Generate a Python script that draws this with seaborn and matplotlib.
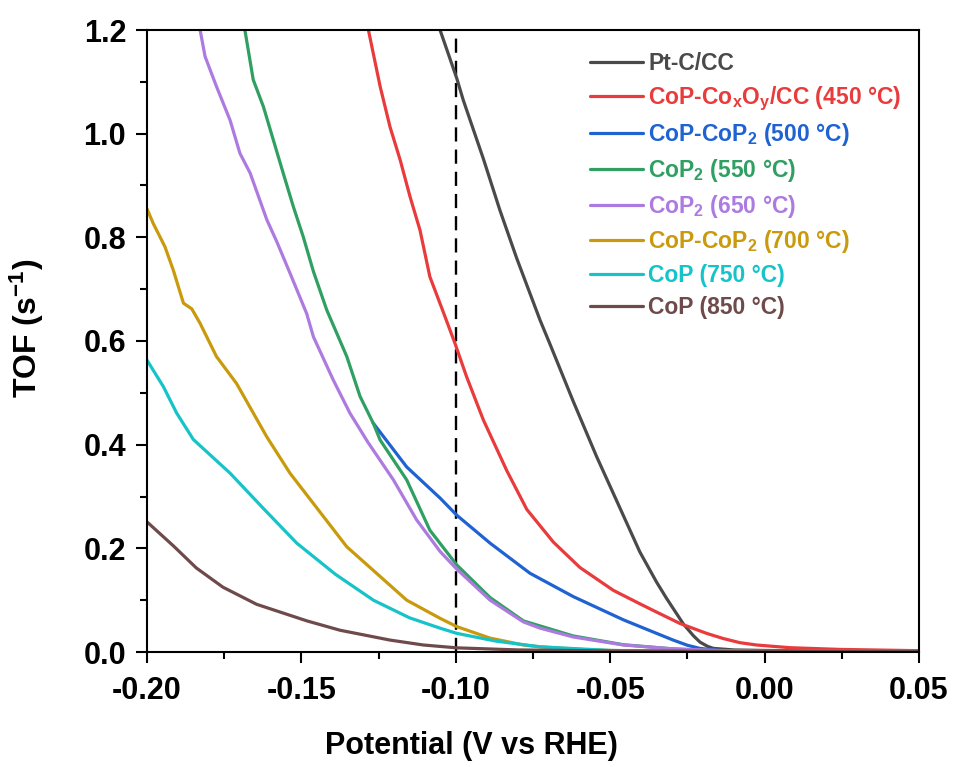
import matplotlib
matplotlib.use("Agg")
import matplotlib.pyplot as plt
import seaborn as sns
import pandas as pd

sns.set_theme(style="ticks")
plt.rcParams['font.family'] = ['Liberation Sans', 'DejaVu Sans']
plt.rcParams['font.weight'] = 'bold'
plt.rcParams['text.color'] = 'black'
plt.rcParams['axes.labelcolor'] = 'black'
plt.rcParams['xtick.color'] = 'black'
plt.rcParams['ytick.color'] = 'black'
plt.rcParams['mathtext.fontset'] = 'custom'
plt.rcParams['mathtext.rm'] = 'Liberation Sans:bold'
plt.rcParams['mathtext.bf'] = 'Liberation Sans:bold'
plt.rcParams['mathtext.it'] = 'Liberation Sans:bold'
plt.rcParams['mathtext.default'] = 'bf'

# ---- data ----
labels = [
    "Pt-C/CC",
    "CoP-Co$_x$O$_y$/CC (450 °C)",
    "CoP-CoP$_2$ (500 °C)",
    "CoP$_2$ (550 °C)",
    "CoP$_2$ (650 °C)",
    "CoP-CoP$_2$ (700 °C)",
    "CoP (750 °C)",
    "CoP (850 °C)",
]
colors = ["#4a4a4a", "#e93b3b", "#1f62d2", "#2f9f62", "#ad7be0", "#c99a0c", "#16c3c8", "#6e4a4a"]

pt_x = [-0.1051, -0.0997, -0.0976, -0.0911, -0.0857, -0.0803, -0.0727, -0.0695, -0.0620, -0.0544,
        -0.0480, -0.0404, -0.0350, -0.0317, -0.0263, -0.0230, -0.0209, -0.0185, -0.0166, -0.0100,
        0.0, 0.02, 0.05]
pt_y = [1.20, 1.107, 1.065, 0.952, 0.852, 0.760, 0.640, 0.594, 0.484, 0.377,
        0.293, 0.193, 0.135, 0.103, 0.054, 0.031, 0.019, 0.011, 0.007, 0.004,
        0.003, 0.002, 0.002]

r450_x = [-0.1283, -0.1245, -0.1213, -0.1180, -0.1148, -0.1116, -0.1084, -0.1040, -0.1003, -0.0965,
          -0.0911, -0.0835, -0.0770, -0.0684, -0.0598, -0.0490, -0.0404, -0.0360, -0.0274, -0.0188,
          -0.0134, -0.0080, -0.0026, 0.0082, 0.0244, 0.05]
r450_y = [1.20, 1.091, 1.013, 0.949, 0.878, 0.814, 0.724, 0.655, 0.596, 0.531,
          0.448, 0.350, 0.275, 0.212, 0.163, 0.119, 0.093, 0.080, 0.055, 0.036,
          0.026, 0.018, 0.0135, 0.0083, 0.005, 0.0025]

b500_x = [-0.1268, -0.1159, -0.1051, -0.0997, -0.0889, -0.0760, -0.0620, -0.0457, -0.0350, -0.0296,
          -0.0250, -0.0210, -0.0150, -0.0050, 0.0100, 0.05]
b500_y = [0.442, 0.357, 0.297, 0.264, 0.210, 0.152, 0.107, 0.062, 0.036, 0.023,
          0.013, 0.007, 0.003, 0.002, 0.001, 0.001]

g550_x = [-0.1683, -0.1656, -0.1623, -0.1591, -0.1559, -0.1526, -0.1494, -0.1461, -0.1418, -0.1353,
          -0.1310, -0.1267, -0.1245, -0.1159, -0.1084, -0.0997, -0.0889, -0.0781, -0.0620, -0.0457,
          -0.0296, -0.0150, 0.0, 0.05]
g550_y = [1.20, 1.104, 1.052, 0.988, 0.924, 0.859, 0.801, 0.734, 0.660, 0.570,
          0.493, 0.441, 0.409, 0.332, 0.235, 0.168, 0.105, 0.060, 0.031, 0.014,
          0.006, 0.002, 0.001, 0.001]

p650_x = [-0.1828, -0.1812, -0.1775, -0.1731, -0.1699, -0.1666, -0.1612, -0.1580, -0.1537, -0.1483,
          -0.1461, -0.1397, -0.1343, -0.1285, -0.1202, -0.1127, -0.1051, -0.0997, -0.0889, -0.0781,
          -0.0727, -0.0620, -0.0457, -0.0296, -0.0150, 0.0, 0.05]
p650_y = [1.20, 1.149, 1.091, 1.026, 0.962, 0.924, 0.834, 0.792, 0.731, 0.653,
          0.608, 0.525, 0.461, 0.405, 0.332, 0.255, 0.194, 0.160, 0.100, 0.058,
          0.046, 0.029, 0.0135, 0.006, 0.003, 0.001, 0.001]

y700_x = [-0.2000, -0.1980, -0.1942, -0.1915, -0.1882, -0.1855, -0.1828, -0.1775, -0.1710, -0.1612,
          -0.1537, -0.1353, -0.1159, -0.1051, -0.0997, -0.0890, -0.0781, -0.0727, -0.0600, -0.0500,
          -0.0300, 0.0, 0.05]
y700_y = [0.855, 0.827, 0.782, 0.737, 0.673, 0.662, 0.634, 0.570, 0.518, 0.415,
          0.345, 0.203, 0.100, 0.065, 0.049, 0.027, 0.0135, 0.010, 0.005, 0.003,
          0.0015, 0.001, 0.001]

c750_x = [-0.2000, -0.1947, -0.1904, -0.1850, -0.1731, -0.1620, -0.1515, -0.1390, -0.1267, -0.1150,
          -0.1051, -0.0997, -0.0870, -0.0727, -0.0500, -0.0300, 0.0, 0.05]
c750_y = [0.563, 0.512, 0.461, 0.410, 0.345, 0.275, 0.210, 0.150, 0.100, 0.066,
          0.046, 0.036, 0.021, 0.010, 0.003, 0.0015, 0.001, 0.001]

br850_x = [-0.2000, -0.1915, -0.1840, -0.1754, -0.1645, -0.1482, -0.1375, -0.1213, -0.1105, -0.0996,
           -0.0800, -0.0500, 0.0, 0.05]
br850_y = [0.251, 0.205, 0.162, 0.125, 0.092, 0.060, 0.042, 0.023, 0.0135, 0.008,
           0.004, 0.002, 0.001, 0.001]

xs = [pt_x, r450_x, b500_x, g550_x, p650_x, y700_x, c750_x, br850_x]
ys = [pt_y, r450_y, b500_y, g550_y, p650_y, y700_y, c750_y, br850_y]

x_ticks = [-0.20, -0.15, -0.10, -0.05, 0.00, 0.05]
x_ticklabels = ["-0.20", "-0.15", "-0.10", "-0.05", "0.00", "0.05"]
y_ticks = [0.0, 0.2, 0.4, 0.6, 0.8, 1.0, 1.2]
y_ticklabels = ["0.0", "0.2", "0.4", "0.6", "0.8", "1.0", "1.2"]
ref_potential = -0.10

# ---- figure ----
fig = plt.figure(figsize=(9.59, 7.67), dpi=100)
ax = fig.add_axes([147/959, 1-652/767, (919-147)/959, (652-30)/767])

for lab, col, x, y in zip(labels, colors, xs, ys):
    df = pd.DataFrame({"x": x, "y": y})
    sns.lineplot(data=df, x="x", y="y", ax=ax, color=col, lw=2.3, label=lab,
                 sort=False, estimator=None)

ax.axvline(ref_potential, color="black", ls=(0, (6.0, 3.4)), lw=1.7, zorder=1)

ax.set_xlim(-0.20, 0.05)
ax.set_ylim(0.0, 1.2)
ax.set_xticks(x_ticks)
ax.set_xticklabels(x_ticklabels)
ax.set_yticks(y_ticks)
ax.set_yticklabels(y_ticklabels)
ax.set_xticks([-0.175, -0.125, -0.075, -0.025, 0.025], minor=True)
ax.set_yticks([0.1, 0.3, 0.5, 0.7, 0.9, 1.1], minor=True)
ax.tick_params(axis="both", which="major", direction="out", length=8, width=1.5,
               labelsize=22, top=False, right=False)
ax.tick_params(axis="x", which="major", pad=9)
ax.tick_params(axis="y", which="major", pad=7)
ax.tick_params(axis="both", which="minor", direction="out", length=5, width=1.5,
               top=False, right=False)
for lbl in ax.get_xticklabels() + ax.get_yticklabels():
    lbl.set_fontweight("bold")
for sp in ax.spines.values():
    sp.set_linewidth(1.5)
    sp.set_color("black")

ax.set_xlabel("Potential (V vs RHE)", fontsize=22, fontweight="bold")
ax.set_ylabel("TOF (s$^{-1}$)", fontsize=23, fontweight="bold")
ax.xaxis.set_label_coords((471 - 147) / 772, -(731 - 652) / 622)
ax.yaxis.set_label_coords((46 - 147) / 772, (652 - 328) / 622)

leg = ax.legend(loc="upper left", bbox_to_anchor=(0.556, 0.986), frameon=False,
                fontsize=16.5, handlelength=2.3, handletextpad=0.25, labelspacing=0.38,
                borderaxespad=0.2)
for txt, ln in zip(leg.get_texts(), leg.get_lines()):
    txt.set_color(ln.get_color())
    txt.set_fontweight("bold")
    ln.set_linewidth(2.3)

fig.savefig("out.png", dpi=100)
